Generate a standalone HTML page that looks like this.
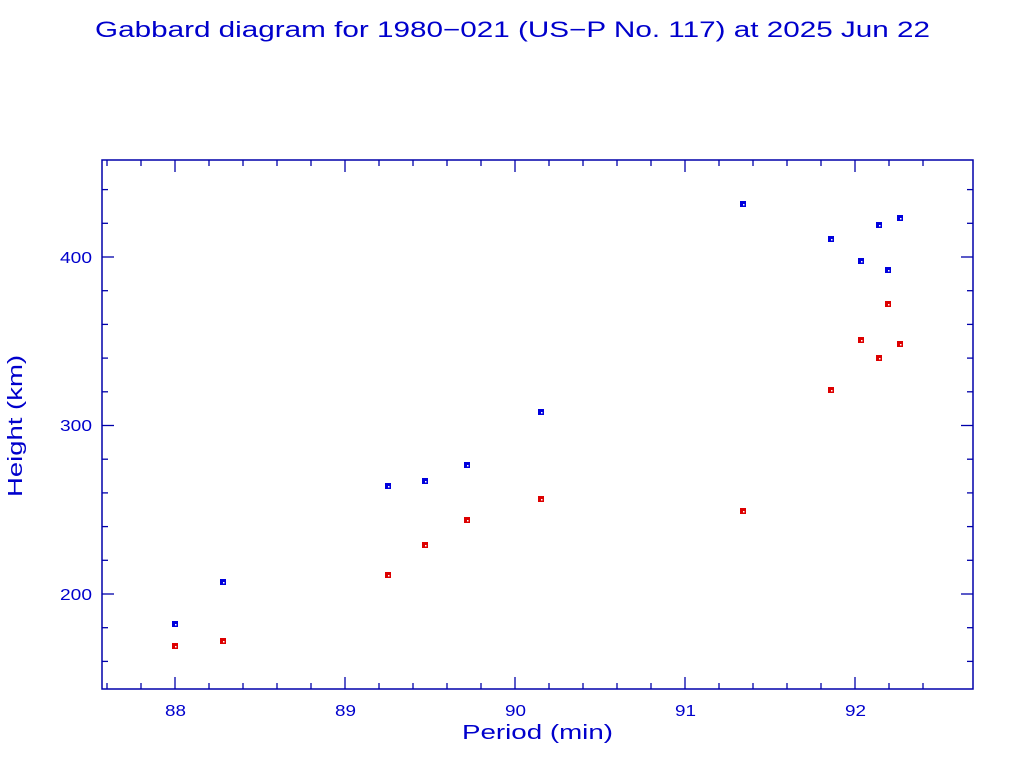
<!DOCTYPE html>
<html><head><style>body{margin:0;background:#fff}svg{display:block}</style></head><body>
<svg width="1024" height="768" xmlns="http://www.w3.org/2000/svg" font-family="'Liberation Sans',sans-serif" fill="#0000cc">
<text x="95" y="37" font-size="22" textLength="835" lengthAdjust="spacingAndGlyphs">Gabbard diagram for 1980−021 (US−P No. 117) at 2025 Jun 22</text>
<rect x="102" y="160" width="871" height="529" fill="none" stroke="#0000aa" stroke-width="1.5"/>
<g stroke="#0000aa" stroke-width="1.3" id="ticks"></g>
<g font-size="16">
<text x="165" y="716" textLength="21" lengthAdjust="spacingAndGlyphs">88</text>
<text x="335" y="716" textLength="21" lengthAdjust="spacingAndGlyphs">89</text>
<text x="505" y="716" textLength="21" lengthAdjust="spacingAndGlyphs">90</text>
<text x="675" y="716" textLength="21" lengthAdjust="spacingAndGlyphs">91</text>
<text x="845" y="716" textLength="21" lengthAdjust="spacingAndGlyphs">92</text>
<text x="60" y="263" textLength="32" lengthAdjust="spacingAndGlyphs">400</text>
<text x="60" y="431" textLength="32" lengthAdjust="spacingAndGlyphs">300</text>
<text x="60" y="600" textLength="32" lengthAdjust="spacingAndGlyphs">200</text>
</g>
<text x="462" y="739" font-size="20" textLength="151" lengthAdjust="spacingAndGlyphs">Period (min)</text>
<text transform="translate(22,497) rotate(-90)" font-size="20" textLength="142" lengthAdjust="spacingAndGlyphs">Height (km)</text>
<g id="pts"></g>
<script>
var ns="http://www.w3.org/2000/svg",t=document.getElementById("ticks"),p=document.getElementById("pts");
function L(a,b,c,d){var l=document.createElementNS(ns,"line");l.setAttribute("x1",a);l.setAttribute("y1",b);l.setAttribute("x2",c);l.setAttribute("y2",d);t.appendChild(l);}
for(var i=-2;i<=22;i++){var x=175+34*i;if(x<=102||x>=973)continue;var len=(i%5==0)?12:6;L(x,689,x,689-len);L(x,160,x,160+len);}
for(var v=160;v<=440;v+=20){var y=594-(v-200)*1.685;if(y<=160||y>=689)continue;var len=(v%100==0)?12:6;L(102,y,102+len,y);L(973,y,973-len,y);}
var B=[[175,624],[223,582],[388,486],[425,481],[467,465],[541,412],[743,204],[831,239],[861,261],[879,225],[888,270],[900,218]];
var R=[[175,646],[223,641],[388,575],[425,545],[467,520],[541,499],[743,511],[831,390],[861,340],[879,358],[888,304],[900,344]];
function P(a,c){a.forEach(function(q){var r=document.createElementNS(ns,"rect");r.setAttribute("x",q[0]-3);r.setAttribute("y",q[1]-3);r.setAttribute("width",6);r.setAttribute("height",6);r.setAttribute("fill",c);p.appendChild(r);var w=document.createElementNS(ns,"rect");w.setAttribute("x",q[0]);w.setAttribute("y",q[1]);w.setAttribute("width",1.5);w.setAttribute("height",1.5);w.setAttribute("fill","#fff");p.appendChild(w);});}
P(B,"#0000dd");P(R,"#dd0000");
</script>
</svg>
</body></html>
